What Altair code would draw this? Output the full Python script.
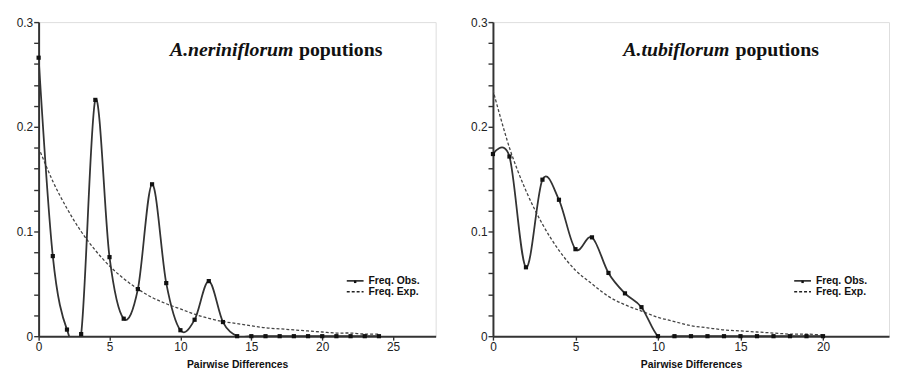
import altair as alt
import pandas as pd

# ---- data ----
diff_left = list(range(25))
obs_left = [0.266, 0.0765, 0.0063, 0.002, 0.2257, 0.0755, 0.0167, 0.045, 0.1451,
            0.0507, 0.0057, 0.0157, 0.0526, 0.0135, 0.0, 0.0, 0.0, 0.0, 0.0, 0.0,
            0.0, 0.0, 0.0, 0.0, 0.0]
exp_left = [0.180, 0.148, 0.122, 0.100, 0.082, 0.067, 0.055, 0.045, 0.037, 0.031,
            0.026, 0.021, 0.017, 0.014, 0.012, 0.010, 0.008, 0.007, 0.006, 0.005,
            0.004, 0.003, 0.003, 0.002, 0.002]

diff_right = list(range(21))
obs_right = [0.174, 0.1716, 0.0658, 0.1495, 0.1303, 0.0831, 0.0944, 0.0604, 0.0409,
             0.0277, 0.0, 0.0, 0.0, 0.0, 0.0, 0.0, 0.0, 0.0, 0.0, 0.0, 0.0]
exp_right = [0.235, 0.180, 0.139, 0.107, 0.082, 0.063, 0.050, 0.038, 0.030, 0.024,
             0.018, 0.014, 0.010, 0.008, 0.006, 0.005, 0.004, 0.003, 0.002, 0.002,
             0.001]

y_ticks = [0.0, 0.02, 0.04, 0.06, 0.08, 0.1, 0.12, 0.14, 0.16, 0.18, 0.2,
           0.22, 0.24, 0.26, 0.28, 0.3]
x_ticks_left = [0, 5, 10, 15, 20, 25]
x_ticks_right = [0, 5, 10, 15, 20]
legend_labels = ["Freq. Obs.", "Freq. Exp."]
species = ["A.neriniflorum", "A.tubiflorum"]
suffix = "poputions"
x_title = "Pairwise Differences"

INK = "#222222"
LABEL_EXPR = ("datum.value == 0 ? '0' : (abs(datum.value*10 - round(datum.value*10)) < 0.001"
              " ? format(datum.value, '.1f') : '')")


def one(text):
    return alt.Chart(pd.DataFrame({"t": [text]}))


def panel(xs, obs, exp, xmax, width, xticks, name, t_start, t_end, leg_x):
    df = pd.DataFrame({"d": xs, "obs": obs, "exp": exp})
    base = alt.Chart(df)
    xscale = alt.Scale(domain=[0, xmax], nice=False, zero=True)
    yscale = alt.Scale(domain=[0, 0.3], nice=False)
    xaxis = alt.Axis(values=xticks, title=x_title, grid=False, tickSize=4,
                     labelFontSize=12, labelFont="Liberation Sans", labelColor=INK,
                     labelPadding=1, titleFont="Liberation Sans", titleFontSize=10.5,
                     titleFontWeight="bold", titleColor="#111", titlePadding=8,
                     domainColor="#333", domainWidth=2, tickColor="#333", tickWidth=1.4,
                     labelFlush=False)
    yaxis = alt.Axis(values=y_ticks, labelExpr=LABEL_EXPR, title=None, grid=False,
                     tickSize=5, labelFontSize=12, labelFont="Liberation Sans",
                     labelColor=INK, labelPadding=1, domainColor="#333", domainWidth=2,
                     tickColor="#333", tickWidth=1.4, minExtent=25, maxExtent=25,
                     labelFlush=False)

    obs_line = base.mark_line(interpolate="cardinal", clip=True, color="#333333",
                              strokeWidth=1.8).encode(
        x=alt.X("d:Q", scale=xscale, axis=xaxis),
        y=alt.Y("obs:Q", scale=yscale, axis=yaxis))
    exp_line = base.mark_line(interpolate="cardinal", clip=True, color="#444444",
                              strokeWidth=1.3, strokeDash=[3, 2]).encode(
        x=alt.X("d:Q", scale=xscale, axis=xaxis),
        y=alt.Y("exp:Q", scale=yscale, axis=yaxis))
    obs_pts = base.mark_point(shape="square", filled=True, size=18, color="#111111",
                              opacity=1).encode(
        x=alt.X("d:Q", scale=xscale, axis=xaxis),
        y=alt.Y("obs:Q", scale=yscale, axis=yaxis))

    title_it = one(name).mark_text(font="Liberation Serif", fontSize=20, fontWeight="bold",
                                   fontStyle="italic", align="left", baseline="alphabetic",
                                   color="#111").encode(
        x=alt.value(t_start), y=alt.value(34), text="t:N")
    title_rest = one(suffix).mark_text(font="Liberation Serif", fontSize=20, fontWeight="bold",
                                       align="right", baseline="alphabetic",
                                       color="#111").encode(
        x=alt.value(t_end), y=alt.value(34), text="t:N")

    y_obs, y_exp = 262, 273
    leg_obs = one("o").mark_rule(color="#222", strokeWidth=1.6).encode(
        x=alt.value(leg_x), x2=alt.value(leg_x + 17), y=alt.value(y_obs))
    leg_obs_pt = one("o").mark_point(shape="square", filled=True, size=6, color="#111",
                                     opacity=1).encode(
        x=alt.value(leg_x + 8.5), y=alt.value(y_obs + 1))
    leg_exp = one("e").mark_rule(color="#222", strokeWidth=1.4, strokeDash=[3, 2]).encode(
        x=alt.value(leg_x), x2=alt.value(leg_x + 17), y=alt.value(y_exp))
    txt_obs = one(legend_labels[0]).mark_text(font="Liberation Sans", fontSize=10.5,
                                              fontWeight="bold", align="left",
                                              baseline="middle", color="#111").encode(
        x=alt.value(leg_x + 22), y=alt.value(y_obs), text="t:N")
    txt_exp = one(legend_labels[1]).mark_text(font="Liberation Sans", fontSize=10.5,
                                              fontWeight="bold", align="left",
                                              baseline="middle", color="#111").encode(
        x=alt.value(leg_x + 22), y=alt.value(y_exp), text="t:N")

    return alt.layer(exp_line, obs_line, obs_pts, title_it, title_rest,
                     leg_obs, leg_obs_pt, leg_exp, txt_obs, txt_exp).properties(
        width=width, height=318)


left = panel(diff_left, obs_left, exp_left, 28, 402, x_ticks_left, species[0], 133, 348, 312)
right = panel(diff_right, obs_right, exp_right, 24, 401, x_ticks_right, species[1], 132, 330, 305)

chart = alt.hconcat(left, right, spacing=31).properties(
    padding={"left": 5, "top": 5, "right": 0, "bottom": 0}
).configure_view(
    stroke="#555555", strokeWidth=1.5
).configure(background="white")

chart.save("out.html", embed_options={"renderer": "svg", "actions": False})
